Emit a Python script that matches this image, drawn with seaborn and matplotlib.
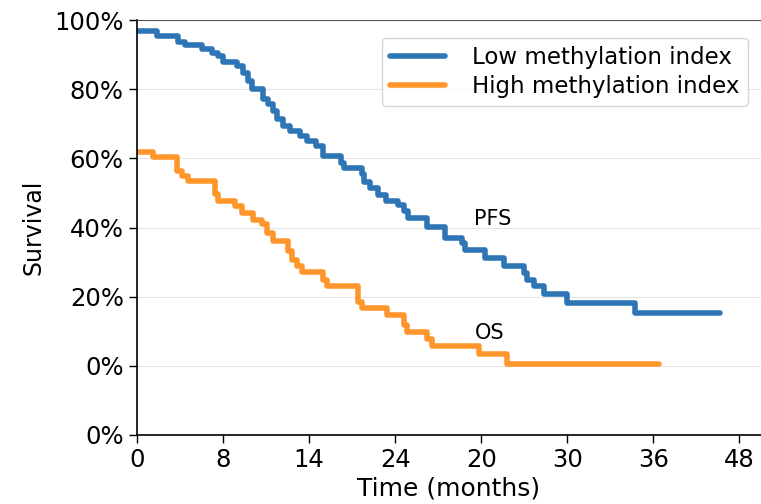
import numpy as np
import pandas as pd
import seaborn as sns
import matplotlib
matplotlib.use("Agg")
import matplotlib.pyplot as plt

# Kaplan-Meier style step curves (time in months, survival in %)
low_time = [0, 1.37, 2.88, 3.35, 4.52, 5.21, 5.67, 6.02, 6.96, 7.42, 7.77, 8.0,
            8.81, 9.16, 9.51, 9.75, 10.21, 10.68, 11.37, 11.84, 12.49, 13.0,
            14.24, 14.40, 15.68, 15.84, 16.26, 16.78, 17.38, 18.21, 18.58,
            18.91, 20.22, 21.49, 22.66, 22.89, 24.28, 25.56, 26.96, 27.2,
            27.66, 28.36, 29.99, 34.75, 40.64]
low_surv = [96.9, 95.3, 93.7, 92.8, 91.8, 90.6, 89.5, 87.9, 86.8, 84.8, 82.4,
            80.0, 77.1, 75.7, 73.7, 71.3, 69.4, 67.9, 66.4, 65.0, 63.6, 60.7,
            58.8, 57.1, 55.4, 53.3, 51.5, 49.3, 47.6, 46.4, 44.7, 42.8, 40.3,
            37.0, 35.6, 33.6, 31.2, 29.0, 26.9, 24.9, 23.0, 20.9, 18.2, 15.3,
            15.3]

high_time = [0, 1.14, 2.77, 3.12, 3.58, 5.44, 5.67, 6.84, 7.31, 8.12, 8.70,
             9.05, 9.51, 10.56, 10.80, 11.14, 11.49, 13.0, 13.24, 15.44, 15.69,
             17.43, 18.58, 18.82, 20.22, 20.57, 23.82, 25.8, 36.38]
high_surv = [62.0, 60.5, 56.5, 54.9, 53.4, 49.6, 47.6, 46.2, 44.1, 42.3, 40.9,
             38.5, 36.0, 33.1, 30.7, 28.8, 27.0, 24.9, 23.0, 18.6, 16.7, 14.8,
             11.9, 9.9, 7.7, 5.6, 3.5, 0.6, 0.6]

series_names = ["Low methylation index", "High methylation index"]
colors = ["#2e75b6", "#ff962b"]

xtick_pos = [0, 6, 12, 18, 24, 30, 36, 42]
xtick_labels = ["0", "8", "14", "24", "20", "30", "36", "48"]
ytick_pos = [-20, 0, 20, 40, 60, 80, 100]
ytick_labels = ["0%", "0%", "20%", "40%", "60%", "80%", "100%"]

df = pd.concat([
    pd.DataFrame({"time": low_time, "surv": low_surv, "group": series_names[0]}),
    pd.DataFrame({"time": high_time, "surv": high_surv, "group": series_names[1]}),
])

sns.set_style("whitegrid", {"xtick.bottom": True, "ytick.left": True,
                            "axes.edgecolor": "black", "grid.color": "#e6e6e6",
                            "text.color": "black", "axes.labelcolor": "black",
                            "xtick.color": "black", "ytick.color": "black"})
plt.rcParams["font.family"] = ["DejaVu Sans"]

fig = plt.figure(figsize=(7.61, 5.04), dpi=100)
ax = fig.add_axes([0.18, 0.137, 0.82, 0.823])

sns.lineplot(data=df, x="time", y="surv", hue="group", palette=colors,
             drawstyle="steps-post", linewidth=4, estimator=None, ax=ax)

ax.set_xlim(0, 43.5)
ax.set_ylim(-20, 100)
ax.set_xticks(xtick_pos)
ax.set_xticklabels(xtick_labels)
ax.set_yticks(ytick_pos)
ax.set_yticklabels(ytick_labels)
ax.xaxis.grid(False)
ax.tick_params(axis="both", labelsize=17.5, length=6, width=1, color="black")
ax.set_xlabel("Time (months)", fontsize=18, labelpad=3)
ax.set_ylabel("Survival", fontsize=17, labelpad=6)

ax.spines["right"].set_visible(False)
ax.spines["top"].set_color("#555555")
ax.spines["left"].set_linewidth(1.2)
ax.spines["bottom"].set_linewidth(1.2)

ax.text(24.8, 42.6, "PFS", fontsize=15, ha="center", va="center")
ax.text(24.6, 9.6, "OS", fontsize=15, ha="center", va="center")

leg = ax.legend(loc="upper right", fontsize=16.5, frameon=True,
                bbox_to_anchor=(0.997, 0.985), handlelength=2.4,
                labelspacing=0.25, borderpad=0.35, handletextpad=1.2)
leg.set_title(None)
for line in leg.get_lines():
    line.set_linewidth(4)

fig.savefig("out.png", dpi=100)
